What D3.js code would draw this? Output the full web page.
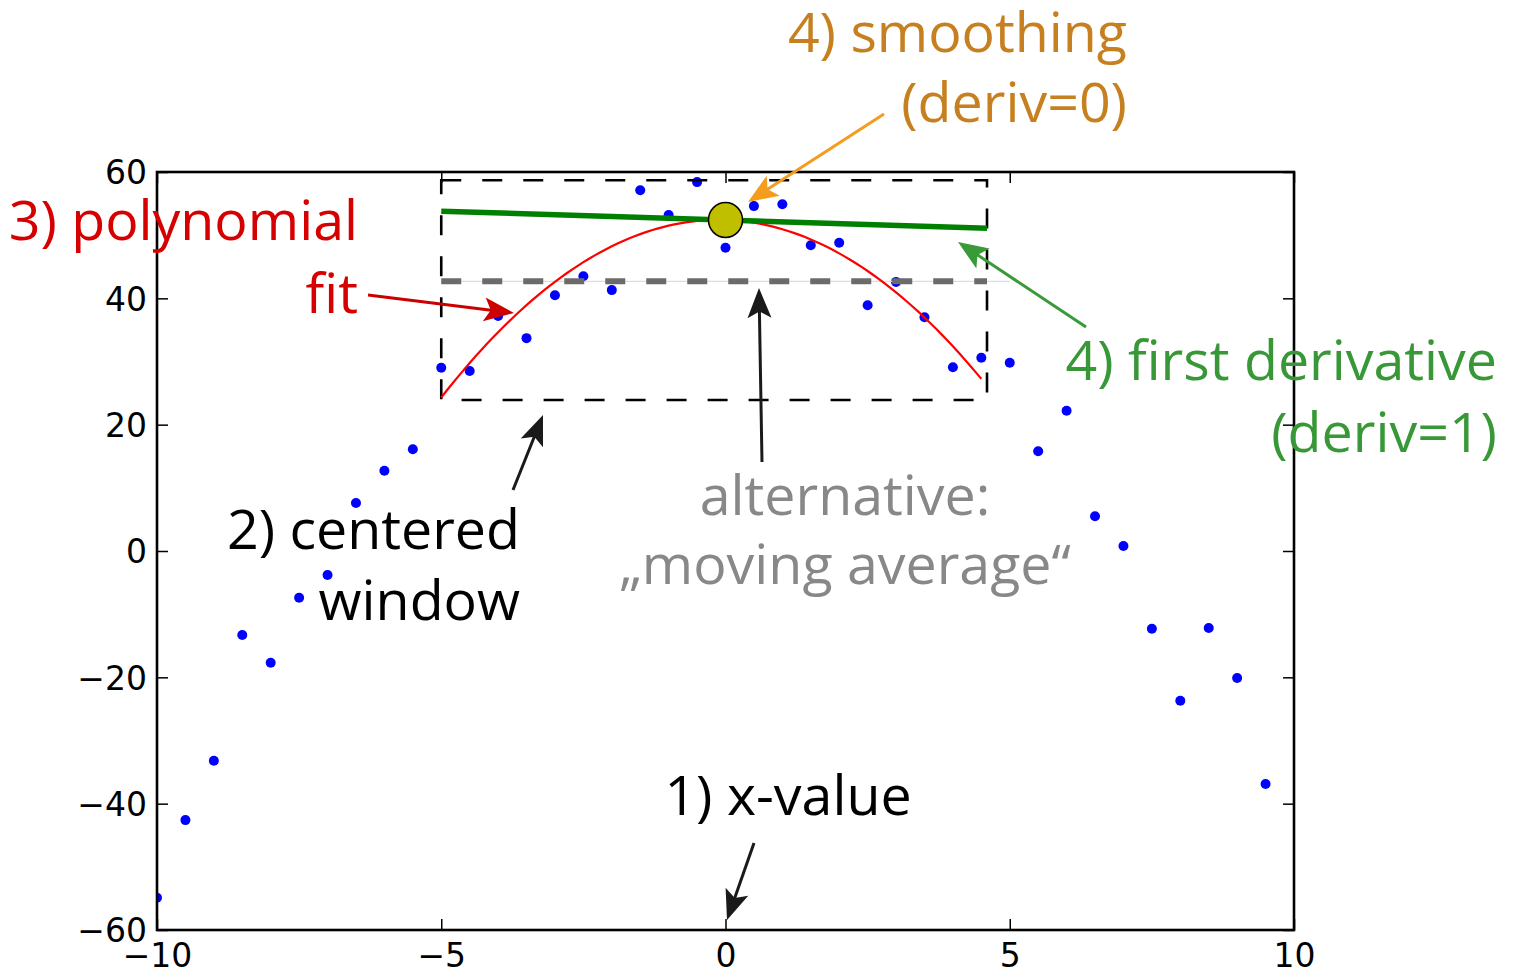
<!DOCTYPE html>
<html>
<head>
<meta charset="utf-8">
<script src="https://cdn.jsdelivr.net/npm/d3@7"></script>
<style>
  body { margin: 0; background: #fff; }
  .note { font-family: "Open Sans", sans-serif; font-size: 55.5px; }
  .tick text { font-family: "DejaVu Sans", sans-serif; font-size: 33px; fill: #000; }
</style>
</head>
<body>
<svg id="chart" width="1517" height="973"></svg>
<script>
//* Data
const xValues = [-10, -9.5, -9, -8.5, -8, -7.5, -7, -6.5, -6, -5.5,
  -5, -4.5, -4, -3.5, -3, -2.5, -2, -1.5, -1, -0.5,
  0, 0.5, 1, 1.5, 2, 2.5, 3, 3.5, 4, 4.5,
  5, 5.5, 6, 6.5, 7, 7.5, 8, 8.5, 9, 9.5];
const yValues = [-54.9, -42.6, -33.2, -13.3, -17.7, -7.4, -3.8, 7.6, 12.7, 16.1,
  29.0, 28.5, 37.2, 33.7, 40.5, 43.5, 41.3, 57.1, 53.2, 58.4,
  48.0, 54.6, 54.9, 48.4, 48.8, 38.9, 42.6, 37.0, 29.1, 30.6,
  29.8, 15.8, 22.2, 5.5, 0.8, -12.3, -23.7, -12.2, -20.1, -36.9];

const xTicks = [-10, -5, 0, 5, 10];
const yTicks = [-60, -40, -20, 0, 20, 40, 60];

// centered window and fit results
const windowX = [-5, 4.6];
const windowY = [23.9, 58.7];
const fitRange = [-5, 4.5];
const fitCoef = [52.4, -0.28, -1.18];   // c0 + c1*x + c2*x^2
const movingAvg = 42.7;
const movingAvgThinEnd = 5;

//* Chart area
const margin = { top: 172, right: 223, bottom: 43, left: 157 };
const width = 1517, height = 973;

const svg = d3.select("#chart");

const x = d3.scaleLinear().domain([-10, 10]).range([margin.left, width - margin.right]);
const y = d3.scaleLinear().domain([-60, 60]).range([height - margin.bottom, margin.top]);

svg.append("clipPath").attr("id", "plotClip")
  .append("rect")
  .attr("x", x(-10)).attr("y", y(60))
  .attr("width", x(10) - x(-10)).attr("height", y(-60) - y(60));

const plot = svg.append("g").attr("clip-path", "url(#plotClip)");

// points
plot.selectAll(".pt")
  .data(xValues.map((d, i) => [d, yValues[i]]))
  .enter()
  .append("circle")
  .attr("class", "pt")
  .attr("cx", d => x(d[0]))
  .attr("cy", d => y(d[1]))
  .attr("r", 5)
  .attr("fill", "#0000ff");

// thin moving average line
plot.append("line")
  .attr("x1", x(windowX[0])).attr("x2", x(movingAvgThinEnd))
  .attr("y1", y(movingAvg)).attr("y2", y(movingAvg))
  .attr("stroke", "#dddddd").attr("stroke-width", 1.2);

// window box
plot.append("rect")
  .attr("x", x(windowX[0])).attr("y", y(windowY[1]))
  .attr("width", x(windowX[1]) - x(windowX[0]))
  .attr("height", y(windowY[0]) - y(windowY[1]))
  .attr("fill", "none")
  .attr("stroke", "#000")
  .attr("stroke-width", 2.6)
  .attr("stroke-dasharray", "20 21");

// thick dashed moving average
plot.append("line")
  .attr("x1", x(windowX[0])).attr("x2", x(windowX[1]))
  .attr("y1", y(movingAvg)).attr("y2", y(movingAvg))
  .attr("stroke", "#6b6b6b").attr("stroke-width", 6)
  .attr("stroke-dasharray", "20 21");

// polynomial fit
const poly = v => fitCoef[0] + fitCoef[1] * v + fitCoef[2] * v * v;
const fitXs = d3.range(fitRange[0], fitRange[1] + 0.001, 0.1);
plot.append("path")
  .datum(fitXs)
  .attr("d", d3.line().x(d => x(d)).y(d => y(poly(d))))
  .attr("fill", "none")
  .attr("stroke", "#ff0000")
  .attr("stroke-width", 2.2);

// tangent (first derivative)
plot.append("line")
  .attr("x1", x(windowX[0])).attr("y1", y(fitCoef[0] + fitCoef[1] * windowX[0]))
  .attr("x2", x(windowX[1])).attr("y2", y(fitCoef[0] + fitCoef[1] * windowX[1]))
  .attr("stroke", "#008000").attr("stroke-width", 5.5);

// smoothed value
plot.append("ellipse")
  .attr("cx", x(0)).attr("cy", y(fitCoef[0]))
  .attr("rx", 17).attr("ry", 17.5)
  .attr("fill", "#bfbf00")
  .attr("stroke", "#000").attr("stroke-width", 1.5);

//* Axes
const fmt = d3.format("d");
const axes = svg.append("g");
axes.append("g")
  .attr("class", "xAxis")
  .attr("transform", `translate(0, ${y(-60)})`)
  .call(d3.axisBottom(x).tickValues(xTicks).tickFormat(fmt).tickSize(-11).tickPadding(14))
  .selectAll("text").attr("dy", "0.71em");
axes.append("g")
  .attr("class", "yAxis")
  .attr("transform", `translate(${x(-10)}, 0)`)
  .call(d3.axisLeft(y).tickValues(yTicks).tickFormat(fmt).tickSize(-11).tickPadding(10))
  .selectAll("text").attr("dy", "0.36em");
axes.append("g")
  .attr("transform", `translate(0, ${y(60)})`)
  .call(d3.axisTop(x).tickValues(xTicks).tickFormat("").tickSize(-11));
axes.append("g")
  .attr("transform", `translate(${x(10)}, 0)`)
  .call(d3.axisRight(y).tickValues(yTicks).tickFormat("").tickSize(-11));
axes.selectAll(".domain").remove();
axes.selectAll(".tick line").attr("stroke", "#000").attr("stroke-width", 1.5);

svg.append("rect")
  .attr("x", x(-10)).attr("y", y(60))
  .attr("width", x(10) - x(-10)).attr("height", y(-60) - y(60))
  .attr("fill", "none").attr("stroke", "#000").attr("stroke-width", 2.6);

//* Annotations (pixel layout)
const notes = [
  { t: "3) polynomial", x: 358, y: 240, a: "end", c: "#d60000" },
  { t: "fit", x: 358, y: 313, a: "end", c: "#d60000" },
  { t: "4) smoothing", x: 1127, y: 52, a: "end", c: "#c6801f" },
  { t: "(deriv=0)", x: 1127, y: 122, a: "end", c: "#c6801f" },
  { t: "4) first derivative", x: 1497, y: 380, a: "end", c: "#389838" },
  { t: "(deriv=1)", x: 1497, y: 452, a: "end", c: "#389838" },
  { t: "2) centered", x: 520, y: 549, a: "end", c: "#000" },
  { t: "window", x: 520, y: 620, a: "end", c: "#000" },
  { t: "alternative:", x: 845, y: 515, a: "middle", c: "#888888" },
  { t: "\u201Emoving average\u201C", x: 845, y: 584, a: "middle", c: "#888888" },
  { t: "1) x-value", x: 788, y: 815, a: "middle", c: "#000" }
];

const arrows = [
  { from: [368, 295], to: [514, 313], c: "#cc0000" },
  { from: [884, 114], to: [748, 202], c: "#f39c1e" },
  { from: [1086, 327], to: [958, 242], c: "#389b38" },
  { from: [513, 490], to: [543, 415], c: "#1a1a1a" },
  { from: [762, 462], to: [759, 288], c: "#1a1a1a" },
  { from: [754, 843], to: [727, 920], c: "#1a1a1a" }
];

const ann = svg.append("g");

arrows.forEach(a => {
  const [x1, y1] = a.from, [x2, y2] = a.to;
  const len = Math.hypot(x2 - x1, y2 - y1);
  const ux = (x2 - x1) / len, uy = (y2 - y1) / len;
  const px = -uy, py = ux;
  const L = 30, W = 12;
  ann.append("line")
    .attr("x1", x1).attr("y1", y1)
    .attr("x2", x2 - ux * L * 0.7).attr("y2", y2 - uy * L * 0.7)
    .attr("stroke", a.c).attr("stroke-width", 3);
  ann.append("path")
    .attr("d", `M${x2},${y2}` +
      `L${x2 - ux * L + px * W},${y2 - uy * L + py * W}` +
      `L${x2 - ux * L * 0.78},${y2 - uy * L * 0.78}` +
      `L${x2 - ux * L - px * W},${y2 - uy * L - py * W}Z`)
    .attr("fill", a.c);
});

ann.selectAll(".note")
  .data(notes)
  .enter()
  .append("text")
  .attr("class", "note")
  .attr("x", d => d.x)
  .attr("y", d => d.y)
  .attr("text-anchor", d => d.a)
  .attr("fill", d => d.c)
  .text(d => d.t);
</script>
</body>
</html>
